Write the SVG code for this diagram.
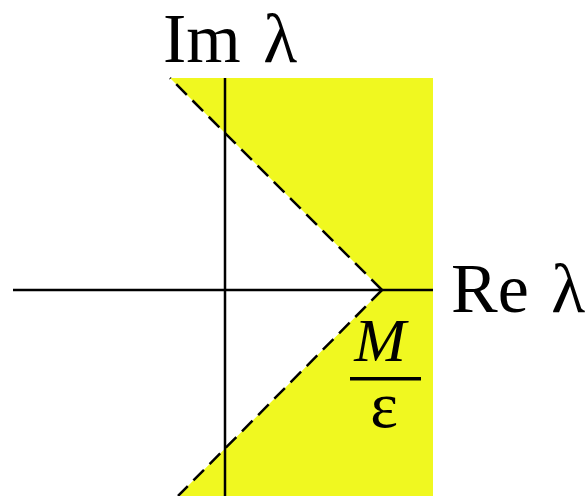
<svg xmlns="http://www.w3.org/2000/svg" width="588" height="496" viewBox="0 0 588 496">
<style>
.t{font-family:"Liberation Serif","Times New Roman",serif;fill:#000}
.ax{stroke:#000;stroke-width:2.5;fill:none}
.ds{stroke:#000;stroke-width:2.5;fill:none;stroke-dasharray:15 8}
</style>
<rect width="588" height="496" fill="#fff"/>
<g id="region">
<polygon points="170,78 433,78 433,496 178,496 382,290" fill="#f0f820"/>
</g>
<g id="connectors">
<line class="ax" x1="225" y1="78" x2="225" y2="496"/>
<line class="ax" x1="13" y1="290" x2="433" y2="290"/>
<line class="ds" x1="382" y1="290" x2="170" y2="78"/>
<line class="ds" x1="382" y1="290" x2="178" y2="496"/>
</g>
<g id="im-label"><text class="t" x="163" y="62" font-size="70">Im <tspan dx="5">λ</tspan></text></g>
<g id="re-label"><text class="t" x="451" y="312" font-size="70">Re <tspan dx="5">λ</tspan></text></g>
<g id="fraction">
<text class="t" x="380" y="361" font-size="62" font-style="italic" text-anchor="middle">M</text>
<rect x="350" y="377" width="71" height="3.5" fill="#000"/>
<text class="t" x="384" y="427" font-size="66" text-anchor="middle">ε</text>
</g>
</svg>
